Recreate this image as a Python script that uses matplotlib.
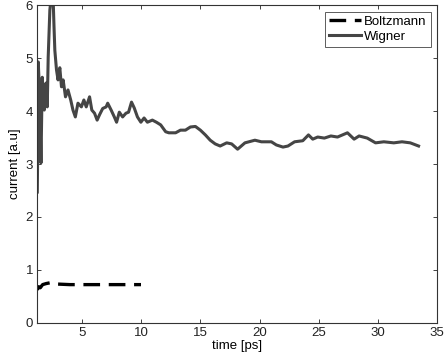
import matplotlib
matplotlib.use('Agg')
import matplotlib.pyplot as plt

plt.rcParams['font.family'] = ['Liberation Sans', 'DejaVu Sans']

# Wigner current
wigner_t = [1.25, 1.30, 1.33, 1.45, 1.56, 1.67, 1.76, 1.84, 1.98, 2.09,
            2.17, 2.31, 2.40, 2.50, 2.59, 2.66, 2.73, 2.87, 3.00, 3.15,
            3.29, 3.43, 3.63, 3.84, 4.07, 4.26, 4.46, 4.68, 4.97, 5.18,
            5.38, 5.66, 5.85, 6.08, 6.30, 6.50, 6.77, 7.06, 7.19, 7.48,
            7.75, 7.94, 8.17, 8.45, 8.73, 8.95, 9.20, 9.43, 9.70, 9.99,
            10.26, 10.54, 10.96, 11.30, 11.66, 12.08, 12.35, 12.92, 13.33, 13.75,
            14.17, 14.59, 15.01, 15.43, 15.84, 16.26, 16.68, 17.23, 17.65, 18.15,
            18.77, 19.61, 20.16, 21.00, 21.42, 21.98, 22.40, 22.96, 23.65, 24.13,
            24.49, 24.91, 25.47, 26.02, 26.58, 27.42, 27.98, 28.40, 29.09, 29.79,
            30.49, 31.33, 32.02, 32.72, 33.42]
wigner_i = [2.47, 3.60, 4.93, 4.30, 3.02, 4.64, 4.20, 4.02, 4.53, 4.08,
            5.02, 5.91, 6.10, 6.05, 6.10, 5.60, 5.15, 4.78, 4.59, 4.82,
            4.46, 4.59, 4.27, 4.40, 4.21, 4.02, 3.89, 4.15, 4.08, 4.21,
            4.08, 4.27, 4.02, 3.96, 3.83, 3.93, 4.05, 4.08, 4.15, 4.02,
            3.89, 3.79, 3.98, 3.89, 3.96, 3.98, 4.17, 4.06, 3.89, 3.79,
            3.87, 3.79, 3.83, 3.79, 3.74, 3.61, 3.59, 3.59, 3.64, 3.64,
            3.70, 3.71, 3.64, 3.55, 3.45, 3.38, 3.34, 3.40, 3.38, 3.28,
            3.40, 3.45, 3.42, 3.42, 3.36, 3.32, 3.34, 3.42, 3.44, 3.55,
            3.47, 3.51, 3.49, 3.53, 3.51, 3.59, 3.47, 3.53, 3.49, 3.40,
            3.42, 3.40, 3.42, 3.40, 3.34]

# Boltzmann current
boltz_t = [1.25, 1.35, 1.50, 1.70, 2.00, 2.45, 3.00, 4.00, 5.00, 6.00, 7.00, 8.00, 9.00, 10.00]
boltz_i = [0.62, 0.68, 0.66, 0.72, 0.74, 0.76, 0.73, 0.72, 0.72, 0.72, 0.72, 0.72, 0.72, 0.72]

xticks = [5, 10, 15, 20, 25, 30, 35]
yticks = [0, 1, 2, 3, 4, 5, 6]

fig = plt.figure(figsize=(4.45, 3.59), dpi=100)
ax = fig.add_axes([0.0838, 0.1011, 0.8989, 0.8841])

ax.plot(boltz_t, boltz_i, color='black', linewidth=2.4, linestyle=(0, (5, 2.6)),
        label='Boltzmann')
ax.plot(wigner_t, wigner_i, color='#454545', linewidth=2.2, label='Wigner')

ax.set_xlim(1.25, 35)
ax.set_ylim(0, 6)
ax.set_xticks(xticks)
ax.set_yticks(yticks)
ax.tick_params(direction='in', top=True, right=True, labelsize=9.5,
               length=3, width=0.6, colors='#222222', pad=3)
for s in ax.spines.values():
    s.set_linewidth(0.8)
    s.set_color('#333333')

ax.set_xlabel('time [ps]', fontsize=9.5, labelpad=1)
ax.set_ylabel('current [a.u]', fontsize=9.5, labelpad=3)

leg = ax.legend(loc='upper right', fontsize=9.5, frameon=True, fancybox=False,
                handlelength=2.4, handletextpad=0.25, borderpad=0.3,
                labelspacing=0.2, borderaxespad=0.5)
leg.get_frame().set_edgecolor('#333333')
leg.get_frame().set_linewidth(0.7)

fig.savefig('out.png', dpi=100)
